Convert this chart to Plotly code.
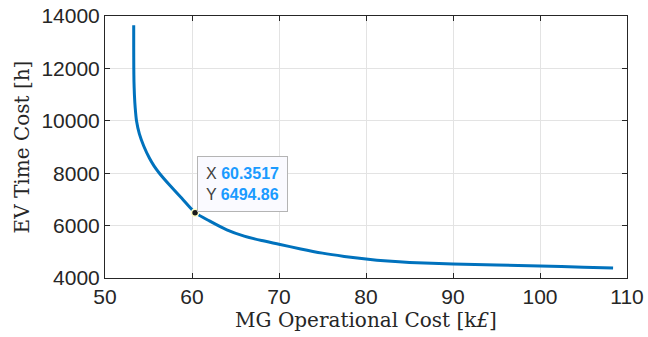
import plotly.graph_objects as go

# Pareto front data
mg_cost = [53.30, 53.30, 53.31, 53.33, 53.38, 53.47, 53.62, 53.95, 54.45, 55.1, 55.65, 56.25, 57.5, 58.9, 60.3517,
           62.0, 64.0, 66.0, 68.0, 70.0, 72.5, 75.0, 77.5, 80.0, 82.5, 85.0, 90.0, 95.0, 100.0, 105.0, 108.4]
ev_time = [13650, 12800, 12000, 11500, 11000, 10500, 10000, 9500, 9040, 8580, 8270, 8000, 7520, 7015, 6494.86,
           6180, 5840, 5600, 5430, 5290, 5110, 4950, 4825, 4722, 4645, 4593, 4530, 4495, 4458, 4415, 4382]

tip_x = 60.3517
tip_y = 6494.86

x_ticks = [50, 60, 70, 80, 90, 100, 110]
y_ticks = [4000, 6000, 8000, 10000, 12000, 14000]

fig = go.Figure()
fig.add_trace(go.Scatter(x=mg_cost, y=ev_time, mode="lines",
                         line=dict(color="#0072BD", width=3, shape="spline", smoothing=0.6),
                         hoverinfo="skip", showlegend=False))
fig.add_trace(go.Scatter(x=[tip_x], y=[tip_y], mode="markers",
                         marker=dict(color="#1a1a1a", size=7, line=dict(color="#ffffc8", width=1.5)),
                         hoverinfo="skip", showlegend=False))

fig.add_annotation(x=tip_x, y=tip_y, xref="x", yref="y", showarrow=False,
                   xanchor="left", yanchor="bottom", xshift=2, yshift=1,
                   align="left",
                   text=("<span style='color:#404040'>X </span><b><span style='color:#1a9bff'>60.3517</span></b><br>"
                         "<span style='color:#404040'>Y </span><b><span style='color:#1a9bff'>6494.86</span></b>"),
                   font=dict(family="Liberation Sans, Arial", size=16),
                   bgcolor="#fafaff", bordercolor="#b4b4b4", borderwidth=1, borderpad=8)

axis_common = dict(showline=True, linecolor="#262626", linewidth=1, mirror="ticks",
                   ticks="inside", ticklen=5, tickcolor="#262626", automargin=False,
                   showgrid=True, gridcolor="#e3e3e3", gridwidth=1, zeroline=False,
                   tickfont=dict(family="Liberation Sans, Arial", size=21, color="#262626"))

fig.update_xaxes(range=[50, 110], tickvals=x_ticks, ticktext=[str(v) for v in x_ticks],
                 title=dict(text="MG Operational Cost [k<i>£</i>]", standoff=4,
                            font=dict(family="DejaVu Serif", size=20, color="#262626")),
                 **axis_common)
fig.update_yaxes(range=[4000, 14000], tickvals=y_ticks, ticktext=[str(v) for v in y_ticks],
                 title=dict(text="EV Time Cost [h]", standoff=6,
                            font=dict(family="DejaVu Serif", size=20, color="#262626")),
                 **axis_common)

fig.update_layout(width=648, height=337, margin=dict(l=105, r=21, t=16, b=59),
                  plot_bgcolor="white", paper_bgcolor="white")

fig.write_html("out.html", config={"displayModeBar": False},
               post_script="document.body.style.margin='0px';")
